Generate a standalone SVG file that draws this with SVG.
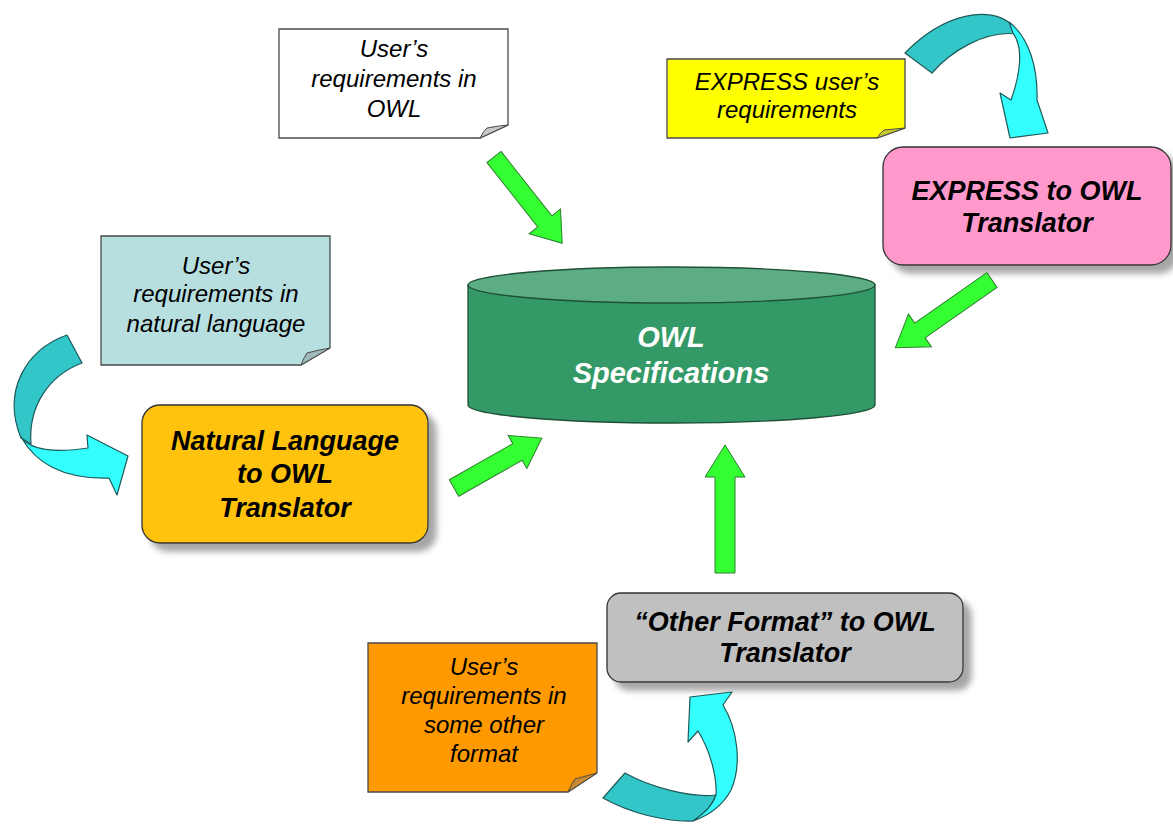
<svg xmlns="http://www.w3.org/2000/svg" width="1173" height="824" viewBox="0 0 1173 824">
<style>
text{font-family:"Liberation Sans",Arial,sans-serif;text-anchor:middle;font-style:italic}
.nt{font-size:24px;fill:#000}
.bt{font-size:27px;font-weight:bold;fill:#000}
.ct{font-size:29px;font-weight:bold;fill:#fff}
.note{stroke:#4a4a4a;stroke-width:1.3}
.fold{stroke:#4a4a4a;stroke-width:1}
.box{stroke:#333;stroke-width:1.3}
.garrow{fill:#33ff33;stroke:#2a7f2a;stroke-width:1}
.cl{fill:#33ffff;stroke:#1e5a5a;stroke-width:1.2;stroke-linejoin:round}
.cd{fill:#33c6c8;stroke:#1e5a5a;stroke-width:1.2;stroke-linejoin:round}
</style>
<defs>
<filter id="sh" x="-10%" y="-10%" width="130%" height="140%">
<feDropShadow dx="8" dy="8" stdDeviation="3" flood-color="#808080" flood-opacity="0.7"/>
</filter>
</defs>
<rect width="1173" height="824" fill="#fff"/>

<g id="note-owl">
<path class="note" fill="#ffffff" d="M279,29 H508 V125 L480,138 H279 Z"/>
<path class="fold" fill="#c8c8c8" d="M480,138 Q484,130 487,128 Q497,126 508,125 Z"/>
<text class="nt" x="394" y="57">User’s</text>
<text class="nt" x="394" y="87">requirements in</text>
<text class="nt" x="394" y="117">OWL</text>
</g>

<g id="note-natural">
<path class="note" fill="#b8dfe0" d="M101,236 H330 V348 L301,365 H101 Z"/>
<path class="fold" fill="#9fb8ba" d="M301,365 Q304,357 307,353 Q318,350 330,348 Z"/>
<text class="nt" x="216" y="274">User’s</text>
<text class="nt" x="216" y="302">requirements in</text>
<text class="nt" x="216" y="332">natural language</text>
</g>

<g id="note-express">
<path class="note" fill="#ffff00" d="M667,59 H905 V128 L877,138 H667 Z"/>
<path class="fold" fill="#c8c830" d="M877,138 Q881,132 884,130 Q895,129 905,128 Z"/>
<text class="nt" x="787" y="90">EXPRESS user’s</text>
<text class="nt" x="787" y="118">requirements</text>
</g>

<g id="note-other">
<path class="note" fill="#ff9900" d="M368,643 H597 V773 L568,792 H368 Z"/>
<path class="fold" fill="#c88a30" d="M568,792 Q572,783 575,779 Q586,776 597,773 Z"/>
<text class="nt" x="484" y="675">User’s</text>
<text class="nt" x="484" y="704">requirements in</text>
<text class="nt" x="484" y="733">some other</text>
<text class="nt" x="484" y="762">format</text>
</g>

<g id="box-natural">
<rect class="box" x="142" y="405" width="286" height="138" rx="18" fill="#ffc20e" filter="url(#sh)"/>
<text class="bt" x="285" y="450">Natural Language</text>
<text class="bt" x="285" y="483">to OWL</text>
<text class="bt" x="285" y="517">Translator</text>
</g>

<g id="box-express">
<rect class="box" x="883" y="147" width="288" height="118" rx="20" fill="#ff99cc" filter="url(#sh)"/>
<text class="bt" x="1027" y="200">EXPRESS to OWL</text>
<text class="bt" x="1027" y="232">Translator</text>
</g>

<g id="box-other">
<rect class="box" x="607" y="593" width="356" height="89" rx="14" fill="#c0c0c0" filter="url(#sh)"/>
<text class="bt" x="785" y="631">“Other Format” to OWL</text>
<text class="bt" x="785" y="662">Translator</text>
</g>

<g id="owl-spec">
<path d="M468,285 V405 A203.5,18 0 0 0 875,405 V285 Z" fill="#339966" stroke="#1f4f36" stroke-width="1.3"/>
<ellipse cx="671.5" cy="285" rx="203.5" ry="18" fill="#5cad84" stroke="#1f4f36" stroke-width="1.3"/>
<text class="ct" x="671" y="347">OWL</text>
<text class="ct" x="671" y="383">Specifications</text>
</g>

<g id="connectors">
<polygon class="garrow" transform="translate(725,573) rotate(-90)" points="0,-10 96,-10 96,-20 128,0 96,20 96,10 0,10"/>
<polygon class="garrow" transform="translate(494,157) rotate(51.7)" points="0,-9 82,-9 82,-20 110,0 82,20 82,9 0,9"/>
<polygon class="garrow" transform="translate(992,280) rotate(145)" points="0,-9 88,-9 88,-20 118,0 88,20 88,9 0,9"/>
<polygon class="garrow" transform="translate(454,488) rotate(-29.6)" points="0,-9.5 73,-9.5 73,-19 101,0 73,19 73,9.5 0,9.5"/>

<path class="cd" d="M67,335 L82,363 C50,375 28,405 31,444 L21,438 C2,392 25,350 67,335 Z"/>
<path class="cl" d="M21,437 C30,450 55,453 88,448 L87,435 L128,456 L117,495 L109,478 C75,479 40,471 21,437 Z"/>

<path class="cd" d="M905,53 L932,73 C950,52 985,30 1016,34 L1011,24 C990,6 945,12 905,53 Z"/>
<path class="cl" d="M1009,22 C1030,38 1038,70 1037,100 L1048,133 L1010,138 L1000,93 L1011,100 C1020,75 1024,48 1013,33 Z"/>

<path class="cd" d="M603,798 L625,773 C650,787 690,798 716,795 C712,806 705,815 693,821 C665,822 630,813 603,798 Z"/>
<path class="cl" d="M716,795 C717,778 711,752 698,731 L688,742 L690,697 L732,692 L723,705 C738,730 742,765 731,790 C723,805 710,815 693,821 C705,813 713,805 716,795 Z"/>
</g>
</svg>
